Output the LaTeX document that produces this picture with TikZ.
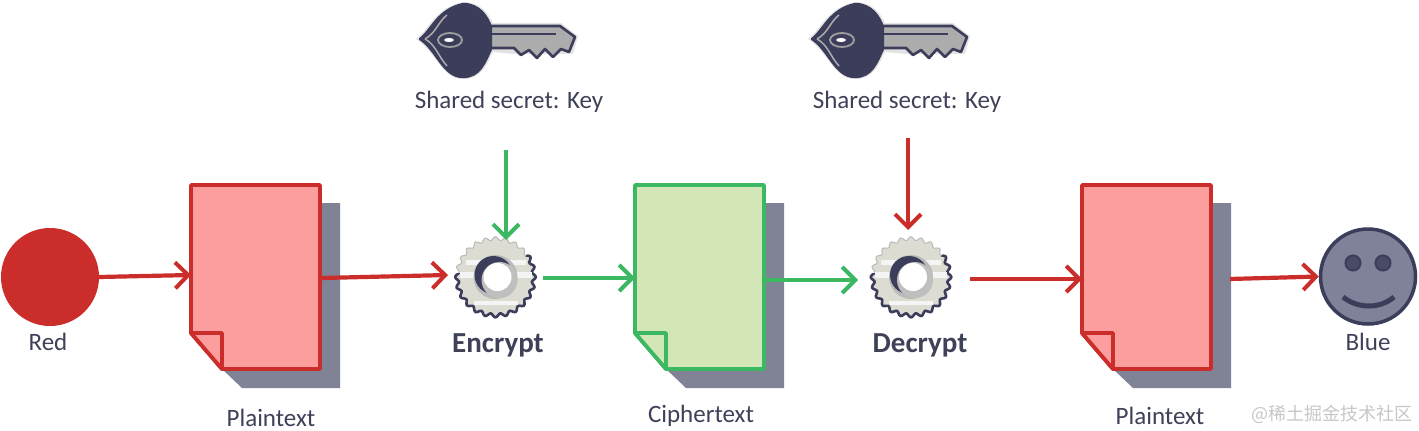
\documentclass[tikz,border=0pt]{standalone}
\usepackage{fontspec}
\setmainfont{Carlito}
\newfontfamily\cjk{Noto Sans CJK SC}
\usetikzlibrary{arrows.meta}
\definecolor{redc}{HTML}{CB2D2A}
\definecolor{pinkc}{HTML}{FD9E9E}
\definecolor{greenc}{HTML}{3DB862}
\definecolor{paleg}{HTML}{D3E6B8}
\definecolor{shadowc}{HTML}{808296}
\definecolor{darkc}{HTML}{3B3D5A}
\definecolor{facec}{HTML}{80829A}
\definecolor{gearc}{HTML}{DCDCD2}
\definecolor{textc}{HTML}{3F4159}
\tikzset{
  conn/.style={line width=4.2pt,-{Straight Barb[length=13pt,width=26pt,line width=4pt]}},
  redarrow/.style={conn,draw=redc},
  greenarrow/.style={conn,draw=greenc},
  lab/.style={text=textc,font=\fontsize{25}{29}\selectfont,inner sep=0pt},
  blab/.style={text=textc,font=\fontsize{29}{34}\selectfont\bfseries,inner sep=0pt},
  docbox/.style={minimum width=129pt,minimum height=184pt,inner sep=0pt},
  gearbox/.style={circle,minimum size=82pt,inner sep=0pt},
}
% name, left x, fill, stroke
\newcommand{\docsheet}[4]{%
  \fill[shadowc] (#2+129,203) -- (#2+149,203) -- (#2+149,388) -- (#2+51,388) -- (#2+31,369) -- cycle;
  \node[docbox] (#1) at (#2+64.5,277) {};
  \draw[fill=#3,draw=#4,line width=3.8pt,line join=round]
    (#2,185) -- (#2+129,185) -- (#2+129,369) -- (#2+31,369) -- (#2,333) -- cycle;
  \draw[fill=#3,draw=#4,line width=3.8pt,line join=round]
    (#2,333) -- (#2+31,333) -- (#2+31,369) -- cycle;
}
\newcommand{\gearshape}[3]{%
  \node[gearbox] (#1) at (#2,#3) {};
  \begin{scope}[shift={(#2,#3)}]
    \draw[fill=gearc,draw=gray!55,line width=1pt,samples=200,domain=0:360,smooth]
      plot ({(38.5+1.8*cos(24*\x))*cos(\x)},{(38.5+1.8*cos(24*\x))*sin(\x)}) -- cycle;
    \begin{scope}
      \clip (-45,-4) -- (12,-4) -- (45,-35) -- (45,45) -- (-45,45) -- cycle;
      \draw[draw=darkc,line width=2.6pt,samples=200,domain=0:360,smooth]
        plot ({(38.5+1.8*cos(24*\x))*cos(\x)},{(38.5+1.8*cos(24*\x))*sin(\x)}) -- cycle;
    \end{scope}
    \fill[white!92!gray] (-30,-17) rectangle (30,-12);
    \fill[white!92!gray] (-36,-5) rectangle (36,1);
    \fill[white!92!gray] (-22,24) rectangle (22,28);
    \fill[gray!55] (0,0) circle (22);
    \fill[darkc] (-2,-2) circle (19);
    \fill[gray!50] (4,3) circle (18);
    \fill[white] (2,0) circle (14);
  \end{scope}
}
\newcommand{\keyshape}[1]{%
  \begin{scope}[shift={(#1,0)}]
    \fill[gray!22] (416,39) .. controls (430,28) and (435,8) .. (463,2)
      .. controls (480,2) and (489,14) .. (493,23) -- (561,23) -- (578,36) -- (573,54)
      -- (515,54) -- (493,52) .. controls (487,64) and (482,79) .. (463,79)
      .. controls (442,79) and (436,52) .. (416,39) -- cycle;
    \draw[fill=gray!65,draw=darkc,line width=2.6pt,line join=round]
      (488,26) -- (560,26) -- (575,37) -- (569,52) -- (561,49) -- (553,57) -- (545,49)
      -- (537,58) -- (529,50) -- (521,55) -- (514,48) -- (488,48) -- cycle;
    \draw[darkc,line width=2.6pt] (488,34) -- (556,34);
    \draw[fill=darkc,draw=darkc,line width=2.4pt,line join=round]
      (420,39) .. controls (432,30) and (437,10) .. (463,4)
      .. controls (479,4) and (487,16) .. (491,27) -- (491,49)
      .. controls (485,62) and (480,77) .. (463,77)
      .. controls (443,77) and (437,50) .. (420,39) -- cycle;
    \draw[gray!65,line width=1.5pt] (425,39) .. controls (436,33) and (438,22) .. (447,15);
    \draw[gray!65,line width=1.5pt] (425,39) .. controls (436,45) and (438,56) .. (447,66);
    \draw[gray!75,line width=1.8pt] (450,40) ellipse (12 and 7);
    \fill[white] (449,40) ellipse (5 and 2);
  \end{scope}
}
\begin{document}
\begin{tikzpicture}[x=1pt,y=-1pt]
\useasboundingbox (0,0) rectangle (1419,431);
\fill[white] (0,0) rectangle (1419,431);

% keys
\keyshape{0}
\keyshape{392}
\node[lab] (sk1) at (509,102) {Shared secret: Key};
\node[lab] (sk2) at (907,102) {Shared secret: Key};

% sender and receiver
\node[circle,fill=redc,minimum size=98pt,inner sep=0pt] (red) at (50,277) {};
\node[circle,fill=facec,draw=darkc,line width=3.5pt,minimum size=95pt,inner sep=0pt] (blue) at (1368,276.5) {};
\node[circle,fill=darkc!80!facec,draw=darkc,line width=2pt,minimum size=15pt,inner sep=0pt] (eyeL) at (1353,263) {};
\node[circle,fill=darkc!80!facec,draw=darkc,line width=2pt,minimum size=15pt,inner sep=0pt] (eyeR) at (1383,263) {};
\draw[darkc,line width=5pt] (1343,297) .. controls (1358,309) and (1380,309) .. (1394,297);

% documents
\docsheet{doc1}{191}{pinkc}{redc}
\docsheet{doc2}{635}{paleg}{greenc}
\docsheet{doc3}{1082}{pinkc}{redc}

% gears
\gearshape{gear1}{495.5}{277}
\gearshape{gear2}{911}{277}

% free ends
\coordinate (k1end) at (506,150);
\coordinate (k2end) at (908,138);
\coordinate (g1top) at (506,240);
\coordinate (g2top) at (908,230);
\coordinate (g1out) at (543,278);
\coordinate (g2out) at (970,279);
\coordinate (d2in) at (635,278);
\coordinate (d2out) at (764,280);
\coordinate (g2in) at (858,280);
\coordinate (d3in) at (1082,279);
\coordinate (d3out) at (1230,279);
\coordinate (g1in) at (448,275);
\coordinate (d1in) at (191,275);
\coordinate (d1out) at (322,278);

% connectors
\draw[redarrow] (red.east) -- (d1in);
\draw[redarrow] (d1out) -- (g1in);
\draw[greenarrow] (k1end) -- (g1top);
\draw[greenarrow] (g1out) -- (d2in);
\draw[greenarrow] (d2out) -- (g2in);
\draw[redarrow] (k2end) -- (g2top);
\draw[redarrow] (g2out) -- (d3in);
\draw[redarrow] (d3out) -- (blue.west);

% labels
\node[lab] (lred) at (48,342) {Red};
\node[lab] (lpt1) at (271,418) {Plaintext};
\node[blab] (lenc) at (498,345) {Encrypt};
\node[lab] (lct) at (701,416) {Ciphertext};
\node[blab] (ldec) at (920,345) {Decrypt};
\node[lab] (lpt2) at (1160,416) {Plaintext};
\node[lab] (lblue) at (1368,342) {Blue};
\node[text=black!22,inner sep=0pt,font=\fontsize{18}{22}\selectfont\cjk] (wm) at (1332,414) {@稀土掘金技术社区};
\end{tikzpicture}
\end{document}
